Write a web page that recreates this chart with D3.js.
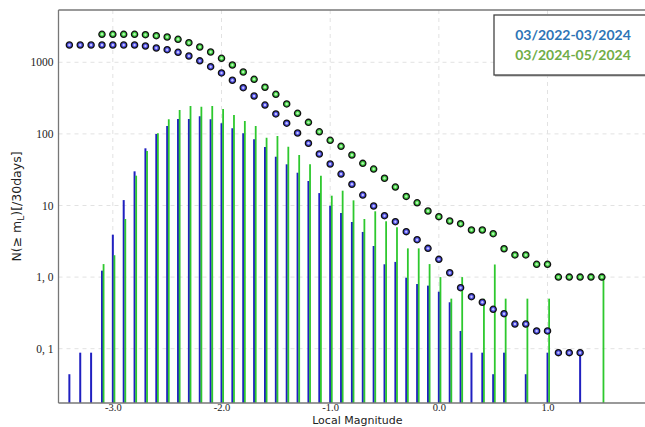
<!DOCTYPE html>
<html>
<head>
<meta charset="utf-8">
<script src="https://cdn.jsdelivr.net/npm/d3@7"></script>
<style>
  html, body { margin: 0; padding: 0; background: #fff; }
  #chart { width: 645px; height: 427px; overflow: hidden; }
</style>
</head>
<body>
<div id="chart"></div>
<script>
// magnitude bins (0.1 step)
var magnitudes = [-3.4, -3.3, -3.2, -3.1, -3.0, -2.9, -2.8, -2.7, -2.6, -2.5,
  -2.4, -2.3, -2.2, -2.1, -2.0, -1.9, -1.8, -1.7, -1.6, -1.5,
  -1.4, -1.3, -1.2, -1.1, -1.0, -0.9, -0.8, -0.7, -0.6, -0.5,
  -0.4, -0.3, -0.2, -0.1, 0.0, 0.1, 0.2, 0.3, 0.4, 0.5,
  0.6, 0.7, 0.8, 0.9, 1.0, 1.1, 1.2, 1.3, 1.4, 1.5];

// cumulative N(>= mL) per 30 days
var blueCum = [1744, 1744, 1744, 1744, 1744, 1744, 1744, 1690, 1584, 1500,
  1379, 1224, 1048, 868, 710, 561, 442, 338, 253, 190,
  141, 103, 74, 52.4, 38, 27.5, 19.8, 14.0, 9.84, 7.2,
  5.94, 4.31, 3.33, 2.52, 1.77, 1.15, 0.711, 0.532, 0.445, 0.355,
  0.308, 0.221, 0.221, 0.177, 0.177, 0.088, 0.088, 0.088, null, null];

var greenCum = [null, null, null, 2460, 2460, 2460, 2460, 2430, 2352, 2257,
  2096, 1878, 1636, 1393, 1137, 917, 732, 579, 448, 357,
  262, 194, 145, 107, 81.4, 67.1, 50.7, 38.8, 32.3, 24.0,
  18.1, 13.4, 10.9, 8.38, 6.98, 6.07, 5.57, 4.55, 4.55, 4.04,
  2.49, 2.04, 2.04, 1.51, 1.51, 1.0, 1.0, 1.0, 1.0, 1.0];

// non-cumulative counts per bin
var blueBins = [0.044, 0.088, 0.088, 1.23, 3.91, 11.9, 30.0, 62.9, 100, 129,
  161, 161, 176, 160, 141, 120, 102, 84.1, 65.6, 48.0,
  37.6, 28.7, 22.0, 14.9, 9.94, 7.86, 5.88, 4.27, 2.72, 1.51,
  1.63, 0.98, 0.80, 0.76, 0.625, 0.445, 0.177, 0.088, 0.088, 0.044,
  0.088, null, 0.044, null, 0.088, null, null, 0.088, null, null];

var greenBins = [null, null, null, 1.52, 2.02, 6.48, 26.1, 57.7, 102, 160,
  216, 245, 240, 245, 223, 184, 151, 129, 88.5, 93.5,
  66.3, 50.7, 37.6, 26.1, 13.7, 16.1, 11.8, 6.48, 8.30, 6.02,
  4.96, 2.52, 2.52, 1.52, 1.0, 0.5, 1.0, null, 0.5, 1.5,
  0.5, null, 0.5, null, 0.5, null, null, null, null, 1.0];

var xTicks = [-3, -2, -1, 0, 1];
var xTickLabels = ['-3.0', '-2.0', '-1.0', '0.0', '1.0'];
var yTicks = [0.1, 1, 10, 100, 1000];
var yTickLabels = ['0, 1', '1, 0', '10', '100', '1000'];
var legendLabels = ['03/2022-03/2024', '03/2024-05/2024'];

(function () {
  var W = 645, H = 427;
  var margin = { top: 10, left: 58.5 };
  var plotW = 597.7, plotH = 393; // right side runs past the window

  var svg = d3.select('#chart').append('svg')
    .attr('width', W).attr('height', H);
  var g = svg.append('g')
    .attr('transform', 'translate(' + margin.left + ',' + margin.top + ')');

  var x = d3.scaleLinear().domain([-3.5, 2.0]).range([0, plotW]);
  var y = d3.scaleLog().domain([0.01744, 5375]).range([plotH, 0]);

  // grid
  var grid = g.append('g').attr('class', 'grid');
  grid.selectAll('line.hg').data(yTicks).enter().append('line')
    .attr('x1', 0).attr('x2', plotW)
    .attr('y1', function (d) { return y(d); }).attr('y2', function (d) { return y(d); })
    .attr('stroke', '#e2e2e2').attr('stroke-width', 1).attr('stroke-dasharray', '4,4');
  grid.selectAll('line.vg').data(xTicks).enter().append('line')
    .attr('y1', 0).attr('y2', plotH)
    .attr('x1', function (d) { return x(d); }).attr('x2', function (d) { return x(d); })
    .attr('stroke', '#e2e2e2').attr('stroke-width', 1).attr('stroke-dasharray', '4,4');

  // histogram bars
  var rows = magnitudes.map(function (m, i) {
    return { m: m, bc: blueCum[i], gc: greenCum[i], bb: blueBins[i], gb: greenBins[i] };
  });

  g.append('g').selectAll('line')
    .data(rows.filter(function (d) { return d.bb != null; }))
    .enter().append('line')
    .attr('x1', function (d) { return x(d.m); }).attr('x2', function (d) { return x(d.m); })
    .attr('y1', plotH).attr('y2', function (d) { return y(d.bb); })
    .attr('stroke', '#2020c0').attr('stroke-width', 2);

  g.append('g').selectAll('line')
    .data(rows.filter(function (d) { return d.gb != null; }))
    .enter().append('line')
    .attr('x1', function (d) { return x(d.m) + 1.6; }).attr('x2', function (d) { return x(d.m) + 1.6; })
    .attr('y1', plotH).attr('y2', function (d) { return y(d.gb); })
    .attr('stroke', '#2ec82e').attr('stroke-width', 1.8);

  // cumulative markers
  function dots(key, fill, core) {
    var sel = g.append('g').selectAll('g')
      .data(rows.filter(function (d) { return d[key] != null; }))
      .enter().append('g')
      .attr('transform', function (d) { return 'translate(' + x(d.m) + ',' + y(d[key]) + ')'; });
    sel.append('circle').attr('r', 3.1)
      .attr('fill', fill).attr('stroke', '#111').attr('stroke-width', 1.3);
    sel.append('circle').attr('r', 1.2).attr('fill', core);
  }
  dots('gc', '#3fcb3f', '#b4f5b4');
  dots('bc', '#4a4ade', '#c0c0ff');

  // frame
  g.append('line').attr('x1', 0).attr('x2', plotW).attr('y1', 0).attr('y2', 0)
    .attr('stroke', '#777').attr('stroke-width', 1.3);
  g.append('line').attr('x1', 0).attr('x2', 0).attr('y1', 0).attr('y2', plotH)
    .attr('stroke', '#777').attr('stroke-width', 1.3);
  g.append('line').attr('x1', 0).attr('x2', plotW).attr('y1', plotH).attr('y2', plotH)
    .attr('stroke', '#777').attr('stroke-width', 1.3);

  // axes (labels only)
  var yAxis = d3.axisLeft(y).tickValues(yTicks).tickSize(0).tickPadding(5)
    .tickFormat(function (d, i) { return yTickLabels[i]; });
  var yg = g.append('g').call(yAxis);
  yg.select('.domain').remove();
  yg.selectAll('text').attr('font-family', '"Liberation Serif", serif')
    .attr('font-size', 11.5).attr('fill', '#222');

  var xAxis = d3.axisBottom(x).tickValues(xTicks).tickSize(0).tickPadding(1)
    .tickFormat(function (d, i) { return xTickLabels[i]; });
  var xg = g.append('g').attr('transform', 'translate(0,' + plotH + ')').call(xAxis);
  xg.select('.domain').remove();
  xg.selectAll('text').attr('font-family', '"Liberation Serif", serif')
    .attr('font-size', 10.5).attr('fill', '#222');

  // axis titles
  svg.append('text')
    .attr('x', margin.left + x(-0.75)).attr('y', 424.2)
    .attr('text-anchor', 'middle')
    .attr('font-family', '"DejaVu Sans", sans-serif').attr('font-size', 11)
    .attr('fill', '#222')
    .text('Local Magnitude');

  var yl = svg.append('text')
    .attr('transform', 'translate(21,' + (margin.top + plotH / 2) + ') rotate(-90)')
    .attr('text-anchor', 'middle')
    .attr('font-family', '"DejaVu Sans", sans-serif').attr('font-size', 12.5)
    .attr('fill', '#222');
  yl.append('tspan').text('N(\u2265 m');
  yl.append('tspan').attr('font-size', 9).attr('dy', 3).text('L');
  yl.append('tspan').attr('dy', -3).text(')[/30days]');

  // legend
  var lg = svg.append('g');
  lg.append('rect').attr('x', 495).attr('y', 16.5).attr('width', 160).attr('height', 60)
    .attr('fill', '#aaa');
  lg.append('rect').attr('x', 494).attr('y', 15).attr('width', 160).attr('height', 60)
    .attr('fill', '#fff').attr('stroke', '#444').attr('stroke-width', 1.3);
  var colors = ['#2e75b6', '#70ad47'];
  legendLabels.forEach(function (t, i) {
    lg.append('text')
      .attr('x', 573).attr('y', 40 + i * 20)
      .attr('text-anchor', 'middle')
      .attr('font-family', 'Lato, "Open Sans", sans-serif')
      .attr('font-weight', 'bold').attr('font-size', 14)
      .attr('fill', colors[i])
      .text(t);
  });
})();
</script>
</body>
</html>
